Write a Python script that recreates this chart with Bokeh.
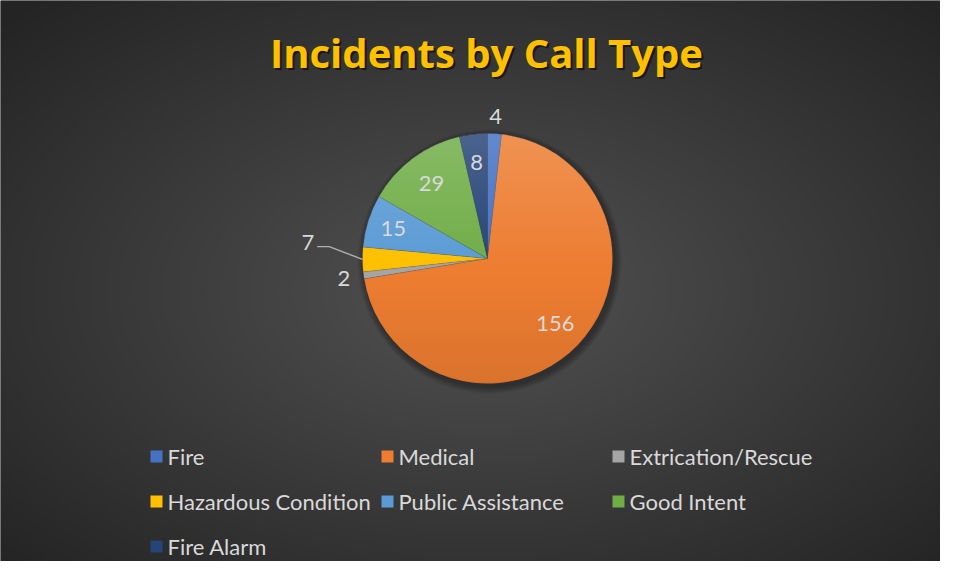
import numpy as np
from bokeh.plotting import figure
from bokeh.models import Range1d
from bokeh.core.properties import value
from bokeh.embed import file_html
from bokeh.resources import INLINE

# ---- data ----
title_text = "Incidents by Call Type"
categories = ["Fire", "Medical", "Extrication/Rescue", "Hazardous Condition",
              "Public Assistance", "Good Intent", "Fire Alarm"]
counts = [4, 156, 2, 7, 15, 29, 8]
colors = ["#4472C4", "#ED7D31", "#A5A5A5", "#FFC000", "#5B9BD5", "#70AD47", "#264478"]

# ---- layout / style ----
W, H = 940, 561
CX, CY = 487, H - 258          # pie centre in data (=screen px) units
R = 125
FONT = "Lato"
LABEL_COLOR = "#D9D9D9"
label_r = [1.14, 0.75, 1.16, None, 0.79, 0.75, 0.77]   # None -> leader line

p = figure(width=W, height=H, x_range=Range1d(0, W), y_range=Range1d(0, H),
           output_backend="svg", toolbar_location=None, min_border=0,
           outline_line_color=None, background_fill_color="#2b2b2b",
           border_fill_color="#2b2b2b")
p.xaxis.visible = False
p.yaxis.visible = False
p.grid.visible = False

# background radial gradient
bh, bw = H // 3, W // 3
yy, xx = np.mgrid[0:bh, 0:bw]
gx = (xx + 0.5) / bw * W
gy = (yy + 0.5) / bh * H
d = np.sqrt(((gx - 480) / (W / 2)) ** 2 + ((gy - (H - 291)) / (H / 2)) ** 2) / np.sqrt(2)
d = np.clip(d, 0, 1)
c = (82 - (82 - 36) * d).astype(np.uint8)
bg = np.empty((bh, bw), dtype=np.uint32)
v = bg.view(dtype=np.uint8).reshape((bh, bw, 4))
v[..., 0] = c
v[..., 1] = c
v[..., 2] = c
v[..., 3] = 255
p.image_rgba(image=[bg], x=0, y=0, dw=W, dh=H)

# pie shadow
for k in range(7):
    p.circle(x=[CX + 2], y=[CY - 3], radius=R + 7 - k, radius_units="screen",
             fill_color="black", fill_alpha=0.05, line_color=None)

# slices
total = float(sum(counts))
cum = np.concatenate([[0], np.cumsum(counts)])
start = np.pi / 2 - cum[:-1] / total * 2 * np.pi
end = np.pi / 2 - cum[1:] / total * 2 * np.pi
p.wedge(x=CX, y=CY, radius=R, radius_units="screen",
        start_angle=start, end_angle=end, direction="clock",
        fill_color=colors, line_color="#404040", line_width=0.5, line_alpha=0.3)

# slice shading overlay (lighter top, darker bottom)
n = 2 * R
yy, xx = np.mgrid[0:n, 0:n]
rx = xx + 0.5 - R
ry = yy + 0.5 - R
inside = (rx ** 2 + ry ** 2) <= R ** 2
f = (yy + 0.5) / n  # 0 bottom -> 1 top
ov = np.zeros((n, n), dtype=np.uint32)
ovv = ov.view(dtype=np.uint8).reshape((n, n, 4))
white = f > 0.45
alpha = np.where(white, 0.17 * (f - 0.45) / 0.55, 0.08 * (0.45 - f) / 0.45)
ovv[..., 0] = np.where(white, 255, 0)
ovv[..., 1] = np.where(white, 255, 0)
ovv[..., 2] = np.where(white, 255, 0)
ovv[..., 3] = (alpha * 255 * inside).astype(np.uint8)
p.image_rgba(image=[ov], x=CX - R, y=CY - R, dw=n, dh=n)

# data labels
mid = (start + end) / 2
lx, ly, lt = [], [], []
for i, cnt in enumerate(counts):
    if label_r[i] is None:
        ex, ey = CX + R * np.cos(mid[i]), CY + R * np.sin(mid[i])
        a2 = mid[i] - np.radians(4.7)
        bx, by = CX + 1.27 * R * np.cos(a2), CY + 1.27 * R * np.sin(a2)
        p.line(x=[ex, bx, bx - 12], y=[ey, by, by], line_color="#B0B0B0", line_width=1.4)
        p.text(x=[bx - 15], y=[by + 4], text=[str(cnt)], text_align="right",
               text_baseline="middle", text_font=value(FONT), text_font_size="22px",
               text_color=LABEL_COLOR)
    else:
        lx.append(CX + label_r[i] * R * np.cos(mid[i]))
        ly.append(CY + label_r[i] * R * np.sin(mid[i]))
        lt.append(str(cnt))
p.text(x=lx, y=ly, text=lt, text_align="center", text_baseline="middle",
       text_font=value(FONT), text_font_size="22px", text_color=LABEL_COLOR)

# title with shadow
p.text(x=[486 + 2], y=[H - 54], text=[title_text], text_align="center",
       text_baseline="middle", text_font=value("Open Sans"), text_font_style="bold",
       text_font_size="40px", text_color="black", text_alpha=0.55)
p.text(x=[486], y=[H - 52], text=[title_text], text_align="center",
       text_baseline="middle", text_font=value("Open Sans"), text_font_style="bold",
       text_font_size="40px", text_color="#FFC000")

# legend
col_x = [150, 381, 612]
row_y = [H - 456, H - 501, H - 546]
sx, sy, tx, ty = [], [], [], []
for i, cat in enumerate(categories):
    cx_ = col_x[i % 3]
    cy_ = row_y[i // 3]
    sx.append(cx_ + 6)
    sy.append(cy_)
    tx.append(cx_ + 17)
    ty.append(cy_)
p.rect(x=sx, y=sy, width=12, height=12, width_units="screen", height_units="screen",
       fill_color=colors, line_color=None)
p.text(x=tx, y=ty, text=categories, text_align="left", text_baseline="middle",
       text_font=value(FONT), text_font_size="22px", text_color=LABEL_COLOR)

open("out.html", "w").write(file_html(p, INLINE))
